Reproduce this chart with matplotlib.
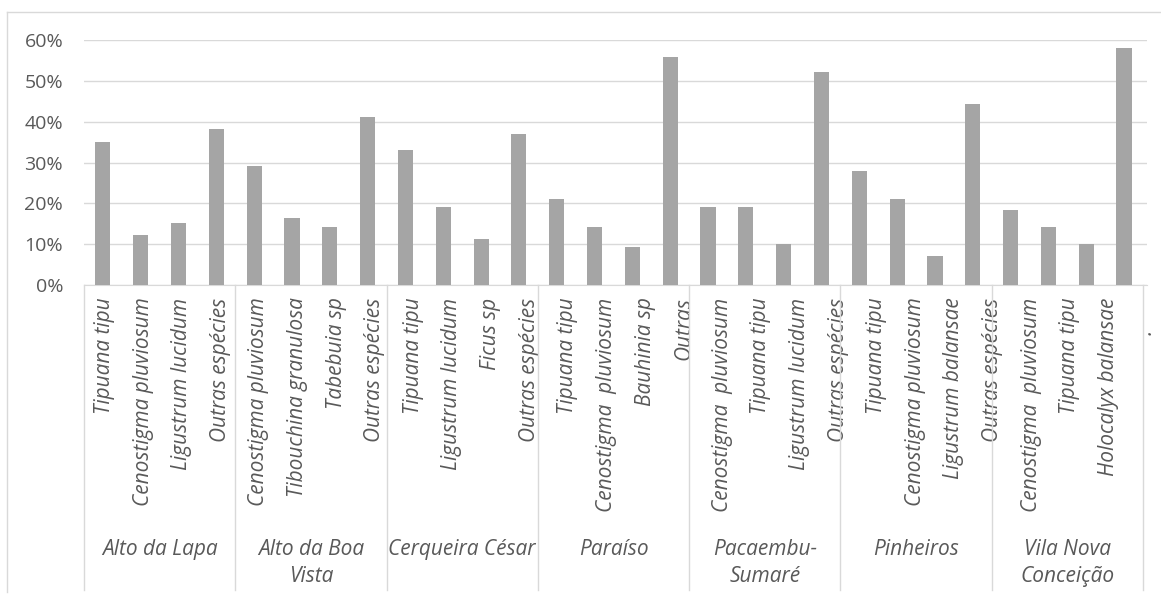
import numpy as np
import matplotlib.pyplot as plt
from matplotlib.lines import Line2D

plt.rcParams['font.family'] = ['Open Sans', 'DejaVu Sans']

bairros = ["Alto da Lapa", "Alto da Boa\nVista", "Cerqueira César", "Paraíso",
           "Pacaembu-\nSumaré", "Pinheiros", "Vila Nova\nConceição"]

especies_lapa = ["Tipuana tipu", "Cenostigma pluviosum", "Ligustrum lucidum", "Outras espécies"]
especies_boa_vista = ["Cenostigma pluviosum", "Tibouchina granulosa", "Tabebuia sp", "Outras espécies"]
especies_cerqueira = ["Tipuana tipu", "Ligustrum lucidum", "Ficus sp", "Outras espécies"]
especies_paraiso = ["Tipuana tipu", "Cenostigma  pluviosum", "Bauhinia sp", "Outras"]
especies_pacaembu = ["Cenostigma  pluviosum", "Tipuana tipu", "Ligustrum lucidum", "Outras espécies"]
especies_pinheiros = ["Tipuana tipu", "Cenostigma pluviosum", "Ligustrum balansae", "Outras espécies"]
especies_vila_nova = ["Cenostigma  pluviosum", "Tipuana tipu", "Holocalyx balansae", ".      "]

# percentual de indivíduos por espécie em cada bairro
freq_lapa = [35.1, 12.2, 15.3, 38.1]
freq_boa_vista = [29.1, 16.3, 14.3, 41.2]
freq_cerqueira = [33.1, 19.0, 11.3, 37.1]
freq_paraiso = [21.0, 14.3, 9.2, 55.9]
freq_pacaembu = [19.0, 19.0, 10.0, 52.1]
freq_pinheiros = [28.0, 21.0, 7.1, 44.3]
freq_vila_nova = [18.3, 14.3, 10.1, 58.1]

especies = [especies_lapa, especies_boa_vista, especies_cerqueira, especies_paraiso,
            especies_pacaembu, especies_pinheiros, especies_vila_nova]
frequencias = [freq_lapa, freq_boa_vista, freq_cerqueira, freq_paraiso,
               freq_pacaembu, freq_pinheiros, freq_vila_nova]

cinza_texto = '#595959'
cinza_linha = '#d9d9d9'

W, H = 1161, 594
fig = plt.figure(figsize=(W / 100, H / 100), dpi=100)
ax = fig.add_axes([84 / W, 1 - 285 / H, (1147 - 84) / W, (285 - 40) / H])

rotulos = [e for grupo in especies for e in grupo]
valores = np.array([v for grupo in frequencias for v in grupo]) / 100
x = np.arange(len(valores))

ax.bar(x, valores, width=0.4, color='#a5a5a5', zorder=3)
ax.set_xlim(-0.5, len(valores) - 0.5)
ax.set_ylim(0, 0.6)

yt = np.arange(0, 0.61, 0.1)
ax.set_yticks(yt, [f"{round(v * 100)}%" for v in yt])
ax.grid(axis='y', color=cinza_linha, lw=1, zorder=0)
for lado in ['top', 'right', 'left']:
    ax.spines[lado].set_visible(False)
ax.spines['bottom'].set_color(cinza_linha)
ax.tick_params(axis='y', length=0, pad=15, labelsize=14, labelcolor=cinza_texto)

# rótulos das espécies, ligeiramente deslocados como no gráfico do Excel
pos_rotulos = x * 1.021 + 0.04
ax.set_xticks(pos_rotulos, rotulos, rotation=90, fontstyle='italic')
ax.tick_params(axis='x', length=0, pad=9, labelsize=15, labelcolor=cinza_texto)

# divisões entre bairros e nomes dos bairros
trans = ax.get_xaxis_transform()
n = len(especies_lapa)
for k in range(len(bairros) + 1):
    xb = k * n - 0.5
    ax.plot([xb, xb], [0, -(590 - 285) / 245], transform=trans, clip_on=False,
            color=cinza_linha, lw=1)
for k, nome in enumerate(bairros):
    ax.text(k * n + (n - 1) / 2, -(539 - 285) / 245, nome, transform=trans,
            ha='center', va='top', ma='center', fontsize=15, fontstyle='italic',
            color=cinza_texto, linespacing=1.35)

# moldura do gráfico
fig.add_artist(Line2D([7 / W, 7 / W], [1 - 12 / H, 1 - 592 / H], color=cinza_linha, lw=1))
fig.add_artist(Line2D([7 / W, 1], [1 - 12 / H, 1 - 12 / H], color=cinza_linha, lw=1))

fig.savefig('out.png', dpi=100)
